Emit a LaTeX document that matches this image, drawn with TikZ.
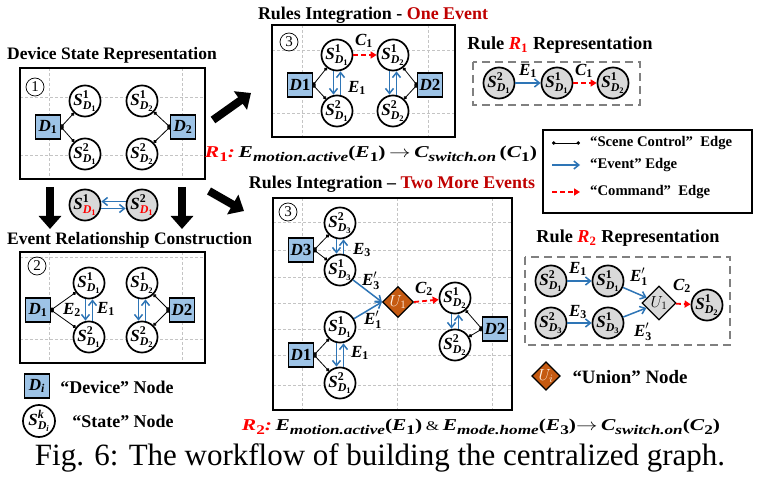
\RequirePackage{fix-cm}
\documentclass[tikz,border=0pt]{standalone}
\usepackage{amsmath}
\usepackage{fontspec}
\setmainfont{Liberation Serif}
\usepackage{graphicx}
\usetikzlibrary{arrows.meta,shapes.geometric}
\definecolor{devblue}{HTML}{9DC3E6}
\definecolor{evblue}{HTML}{2E75B6}
\definecolor{unionor}{HTML}{C55A11}
\definecolor{dred}{HTML}{C00000}
\definecolor{sgray}{HTML}{D9D9D9}
\definecolor{gridc}{HTML}{C4C4C4}
\newcommand{\fitw}[2]{\resizebox{#1}{!}{#2}}
\newcommand{\bi}[1]{\text{\normalfont\bfseries\itshape #1}}
\newcommand{\bu}[1]{\text{\normalfont\bfseries #1}}
\newcommand{\Sn}[2]{$\bi{S}^{\bu{#1}}_{\bi{D}_{\bu{#2}}}$}
\newcommand{\Ev}[2]{$\bi{#1}_{\bu{#2}}$}
\newcommand{\Evp}[2]{$\bi{#1}'_{\bu{#2}}$}
\newcommand{\sbx}[1]{\raisebox{-3.5pt}{\fontsize{12}{12}\selectfont\bfseries\itshape #1}}
\newcommand{\sbn}[1]{\raisebox{-3.5pt}{\fontsize{12}{12}\selectfont\bfseries\upshape #1}}
\newcommand{\evpair}[2]{\draw[ev] ([xshift=-3.5pt]#1.south) -- ([xshift=-3.5pt]#2.north);
  \draw[ev] ([xshift=3.5pt]#2.north) -- ([xshift=3.5pt]#1.south);}
\tikzset{
  panel/.style={draw=black, line width=2.6pt},
  gridl/.style={draw=gridc, line width=0.7pt, dash pattern=on 3pt off 2pt},
  st/.style={circle, draw=black, line width=1.7pt, fill=white, minimum size=30pt, inner sep=0pt, font=\fontsize{17}{17}\selectfont},
  stg/.style={st, fill=sgray},
  dev/.style={draw=black, line width=1.1pt, fill=devblue, minimum width=25pt, minimum height=24pt, inner sep=0pt, font=\fontsize{17}{17}\selectfont},
  ctrl/.style={draw=black, line width=0.8pt, {Circle[length=3.4pt]}-{Circle[length=3.4pt]}},
  ev/.style={draw=evblue, line width=1.5pt, -{Straight Barb[length=5pt,width=8pt]}},
  cmd/.style={draw=red, line width=1.8pt, dash pattern=on 5pt off 3pt, -{Triangle[length=6pt,width=7pt]}},
  bigarr/.style={draw=black, line width=8pt, -{Triangle[length=13pt,width=22pt]}},
  lbl/.style={font=\fontsize{17}{17}\selectfont, inner sep=0pt},
  uni/.style={diamond, draw=black, line width=1.2pt, fill=unionor, minimum size=31pt, inner sep=0pt, aspect=1, font=\fontsize{16}{16}\selectfont},
  num/.style={circle, draw=black, line width=0.7pt, minimum size=18pt, inner sep=0pt, font=\fontsize{15}{15}\selectfont},
  txt/.style={inner sep=0pt},
  ttl/.style={inner sep=0pt, anchor=west, font=\fontsize{17.5}{17.5}\selectfont\bfseries},
  frm/.style={inner sep=0pt, font=\fontsize{15}{15}\selectfont\bfseries\itshape},
  rulebox/.style={draw=gray, line width=1.8pt, dash pattern=on 8pt off 5pt}
}
\begin{document}
\begin{tikzpicture}[x=1pt,y=-1pt]
\useasboundingbox[fill=white] (0,0) rectangle (760,486);

% ================= Panel 1 =================
\node[ttl] (t1) at (7,55) {Device State Representation};
\draw[gridl] (49,68) -- (49,179) (182,68) -- (182,179) (20,97) -- (205,97) (20,155) -- (205,155);
\draw[panel] (20,68) rectangle (205,179);
\node[num] (n1) at (35,87) {1};
\node[st] (p1s11) at (85,101) {\Sn{1}{1}};
\node[st] (p1s21) at (85,154) {\Sn{2}{1}};
\node[st] (p1s12) at (142,101) {\Sn{1}{2}};
\node[st] (p1s22) at (142,154) {\Sn{2}{2}};
\node[dev] (p1d1) at (48,127) {\Ev{D}{1}};
\node[dev] (p1d2) at (183,127) {\Ev{D}{2}};
\draw[ctrl] (p1d1.east) -- (p1s11);
\draw[ctrl] (p1d1.east) -- (p1s21);
\draw[ctrl] (p1d2.west) -- (p1s12);
\draw[ctrl] (p1d2.west) -- (p1s22);

% ================= between 1 and 2 =================
\node[stg] (g1) at (85,205) {$\bi{S}^{\bu{1}}_{\textcolor{red}{\bi{D}_{\bu{1}}}}$};
\node[stg] (g2) at (142,205) {$\bi{S}^{\bu{2}}_{\textcolor{red}{\bi{D}_{\bu{1}}}}$};
\draw[ev] ([yshift=3.5pt]g2.west) -- ([yshift=3.5pt]g1.east);
\draw[ev] ([yshift=-3.5pt]g1.east) -- ([yshift=-3.5pt]g2.west);
\coordinate (a1s) at (50,187); \coordinate (a1e) at (50,229);
\coordinate (a2s) at (182,187); \coordinate (a2e) at (182,229);
\coordinate (a3s) at (213,120); \coordinate (a3e) at (251,93);
\coordinate (a4s) at (209,191); \coordinate (a4e) at (244,211);
\draw[bigarr] (a1s) -- (a1e);
\draw[bigarr] (a2s) -- (a2e);
\draw[bigarr] (a3s) -- (a3e);
\draw[bigarr] (a4s) -- (a4e);

% ================= Panel 2 =================
\node[ttl] (t2) at (7,240) {Event Relationship Construction};
\draw[gridl] (49,252) -- (49,363) (182,252) -- (182,363) (20,257) -- (205,257) (20,339) -- (205,339);
\draw[panel] (20,252) rectangle (205,363);
\node[num] (n2) at (37,266) {2};
\node[st] (p2s11) at (89,283) {\Sn{1}{1}};
\node[st] (p2s21) at (89,337) {\Sn{2}{1}};
\node[st] (p2s12) at (142,283) {\Sn{1}{2}};
\node[st] (p2s22) at (142,337) {\Sn{2}{2}};
\node[dev] (p2d1) at (38,310) {\Ev{D}{1}};
\node[dev] (p2d2) at (182,310) {$\bi{D}\bu{2}$};
\draw[ctrl] (p2d1.east) -- (p2s11);
\draw[ctrl] (p2d1.east) -- (p2s21);
\draw[ctrl] (p2d2.west) -- (p2s12);
\draw[ctrl] (p2d2.west) -- (p2s22);
\evpair{p2s11}{p2s21}
\evpair{p2s12}{p2s22}
\node[lbl] (p2e2) at (72,310) {\Ev{E}{2}};
\node[lbl] (p2e1) at (106,309) {\Ev{E}{1}};

% ================= Legend bottom-left =================
\node[dev] (ld) at (37,386) {\Ev{D}{\itshape i}};
\node[txt] (ldt) at (117,387) {\fitw{113pt}{\textbf{“Device” Node}}};
\node[st, minimum size=32pt] (ls) at (39,421) {$\bi{S}^{\bi{k}}_{\bi{D}_{\bi{i}}}$};
\node[txt] (lst) at (123,421) {\fitw{101pt}{\textbf{“State” Node}}};

% ================= Panel 3a =================
\node[txt] (t3) at (373,15) {\fitw{230pt}{\textbf{Rules Integration - \textcolor{dred}{One Event}}}};
\draw[gridl] (302,25) -- (302,137) (428,25) -- (428,137) (272,50) -- (455,50) (272,113) -- (455,113);
\draw[panel] (272,25) rectangle (455,137);
\node[num] (n3) at (289,42) {3};
\node[st] (as11) at (337,55) {\Sn{1}{1}};
\node[st] (as21) at (337,111) {\Sn{2}{1}};
\node[st] (as12) at (393,55) {\Sn{1}{2}};
\node[st] (as22) at (393,111) {\Sn{2}{2}};
\node[dev] (ad1) at (300,85) {$\bi{D}\bu{1}$};
\node[dev] (ad2) at (430,85) {$\bi{D}\bu{2}$};
\draw[ctrl] (ad1.east) -- (as11);
\draw[ctrl] (ad1.east) -- (as21);
\draw[ctrl] (ad2.west) -- (as12);
\draw[ctrl] (ad2.west) -- (as22);
\evpair{as11}{as21}
\evpair{as12}{as22}
\draw[cmd] (as11) -- (as12);
\node[lbl] (ac1) at (364,41) {\Ev{C}{1}};
\node[lbl] (ae1) at (357,88) {\Ev{E}{1}};

\node[frm] (r1f) at (371,154) {\resizebox{332pt}{11.5pt}{\textcolor{red}{R\sbn{1}:}\,E\sbx{motion.active}{\upshape(}E\sbn{1}{\upshape)}\,{\upshape$\rightarrow$}\,C\sbx{switch.on}\,{\upshape(}C\sbn{1}{\upshape)}}};

% ================= Panel 3b =================
\node[txt] (t4) at (392,184) {\fitw{286pt}{\textbf{Rules Integration – \textcolor{dred}{Two More Events}}}};
\draw[gridl] (302,198) -- (302,410) (397,198) -- (397,410) (492,198) -- (492,410)
  (273,222) -- (512,222) (273,250) -- (512,250) (273,277) -- (512,277) (273,303) -- (512,303)
  (273,329) -- (512,329) (273,355) -- (512,355) (273,385) -- (512,385);
\draw[panel] (273,198) rectangle (512,410);
\node[num] (n4) at (288,212) {3};
\node[st] (bs23) at (340,223) {\Sn{2}{3}};
\node[st] (bs13) at (340,270) {\Sn{1}{3}};
\node[dev] (bd3) at (301,250) {$\bi{D}\bu{3}$};
\node[st] (bs11) at (340,327) {\Sn{1}{1}};
\node[st] (bs21) at (340,383) {\Sn{2}{1}};
\node[dev] (bd1) at (301,355) {$\bi{D}\bu{1}$};
\node[st] (bs12) at (455,298) {\Sn{1}{2}};
\node[st] (bs22) at (455,345) {\Sn{2}{2}};
\node[dev] (bd2) at (495,329) {$\bi{D}\bu{2}$};
\node[uni] (bu) at (398,302) {\textcolor{white!90!orange}{$U_1$}};
\draw[ctrl] (bd3.east) -- (bs23);
\draw[ctrl] (bd3.east) -- (bs13);
\draw[ctrl] (bd1.east) -- (bs11);
\draw[ctrl] (bd1.east) -- (bs21);
\draw[ctrl] (bd2.west) -- (bs12);
\draw[ctrl] (bd2.west) -- (bs22);
\evpair{bs23}{bs13}
\evpair{bs11}{bs21}
\evpair{bs12}{bs22}
\draw[ev] (bs13) -- (bu.west);
\draw[ev] (bs11) -- (bu.west);
\draw[cmd] (bu.east) -- (bs12);
\node[lbl] (be3) at (362,250) {\Ev{E}{3}};
\node[lbl] (be3p) at (371,281) {\Evp{E}{3}};
\node[lbl] (be1p) at (373,320) {\Evp{E}{1}};
\node[lbl] (be1) at (360,353) {\Ev{E}{1}};
\node[lbl] (bc2) at (424,289) {\Ev{C}{2}};

\node[frm] (r2f) at (481,427) {\resizebox{478pt}{11.5pt}{\textcolor{red}{R\sbn{2}:}\,E\sbx{motion.active}{\upshape(}E\sbn{1}{\upshape)}\,{\mdseries\upshape\fontsize{12}{12}\selectfont\&}\,E\sbx{mode.home}{\upshape(}E\sbn{3}{\upshape)}{\upshape$\rightarrow$}\,C\sbx{switch.on}{\upshape(}C\sbn{2}{\upshape)}}};

% ================= Rule R1 representation =================
\node[txt] (t5) at (560,45) {\fitw{185pt}{\textbf{Rule \textcolor{red}{$\bi{R}_{\bu{1}}$} Representation}}};
\draw[rulebox] (473,62) rectangle (640,105);
\node[stg] (r1a) at (499,83) {\Sn{2}{1}};
\node[stg] (r1b) at (557,83) {\Sn{1}{1}};
\node[stg] (r1c) at (613,83) {\Sn{1}{2}};
\draw[ev] (r1a) -- (r1b);
\draw[cmd] (r1b) -- (r1c);
\node[lbl] (r1e1) at (528,71) {\Ev{E}{1}};
\node[lbl] (r1c1) at (584,71) {\Ev{C}{1}};

% ================= Edge legend =================
\draw[black, line width=2pt] (543,130) rectangle (752,213);
\coordinate (le1a) at (552,143); \coordinate (le1b) at (580,143);
\coordinate (le2a) at (552,165); \coordinate (le2b) at (580,165);
\coordinate (le3a) at (552,192); \coordinate (le3b) at (580,192);
\draw[ctrl] (le1a) -- (le1b);
\draw[ev] (le2a) -- (le2b);
\draw[cmd] (le3a) -- (le3b);
\node[txt, anchor=west] (le1t) at (590,143) {\fitw{142pt}{\textbf{“Scene Control”~ Edge}}};
\node[txt, anchor=west] (le2t) at (590,165) {\fitw{87pt}{\textbf{“Event” Edge}}};
\node[txt, anchor=west] (le3t) at (590,192) {\fitw{120pt}{\textbf{“Command”~ Edge}}};

% ================= Rule R2 representation =================
\node[txt] (t6) at (628,238) {\fitw{183pt}{\textbf{Rule \textcolor{red}{$\bi{R}_{\bu{2}}$} Representation}}};
\draw[rulebox] (525,257) rectangle (730,345);
\node[stg] (r2a) at (551,281) {\Sn{2}{1}};
\node[stg] (r2b) at (608,281) {\Sn{1}{1}};
\node[stg] (r2c) at (551,323) {\Sn{2}{3}};
\node[stg] (r2d) at (608,323) {\Sn{1}{3}};
\node[uni, fill=sgray, minimum size=34pt] (r2u) at (659,303) {$U_1$};
\node[stg] (r2e) at (707,305) {\Sn{1}{2}};
\draw[ev] (r2a) -- (r2b);
\draw[ev] (r2c) -- (r2d);
\draw[ev] (r2b) -- (r2u);
\draw[ev] (r2d) -- (r2u);
\draw[cmd] (r2u) -- (r2e);
\node[lbl] (r2e1) at (578,269) {\Ev{E}{1}};
\node[lbl] (r2e1p) at (639,277) {\Evp{E}{1}};
\node[lbl] (r2e3) at (578,312) {\Ev{E}{3}};
\node[lbl] (r2e3p) at (643,332) {\Evp{E}{3}};
\node[lbl] (r2c2) at (682,286) {\Ev{C}{2}};

% ================= Union legend =================
\node[uni, minimum size=28pt] (lu) at (546,376) {\textcolor{white!90!orange}{$U_i$}};
\node[txt] (lut) at (630,377) {\fitw{115pt}{\textbf{“Union” Node}}};

% ================= Caption =================
\node[txt] (cap) at (380,458) {\fitw{690pt}{Fig. 6: The workflow of building the centralized graph.}};
\end{tikzpicture}
\end{document}
